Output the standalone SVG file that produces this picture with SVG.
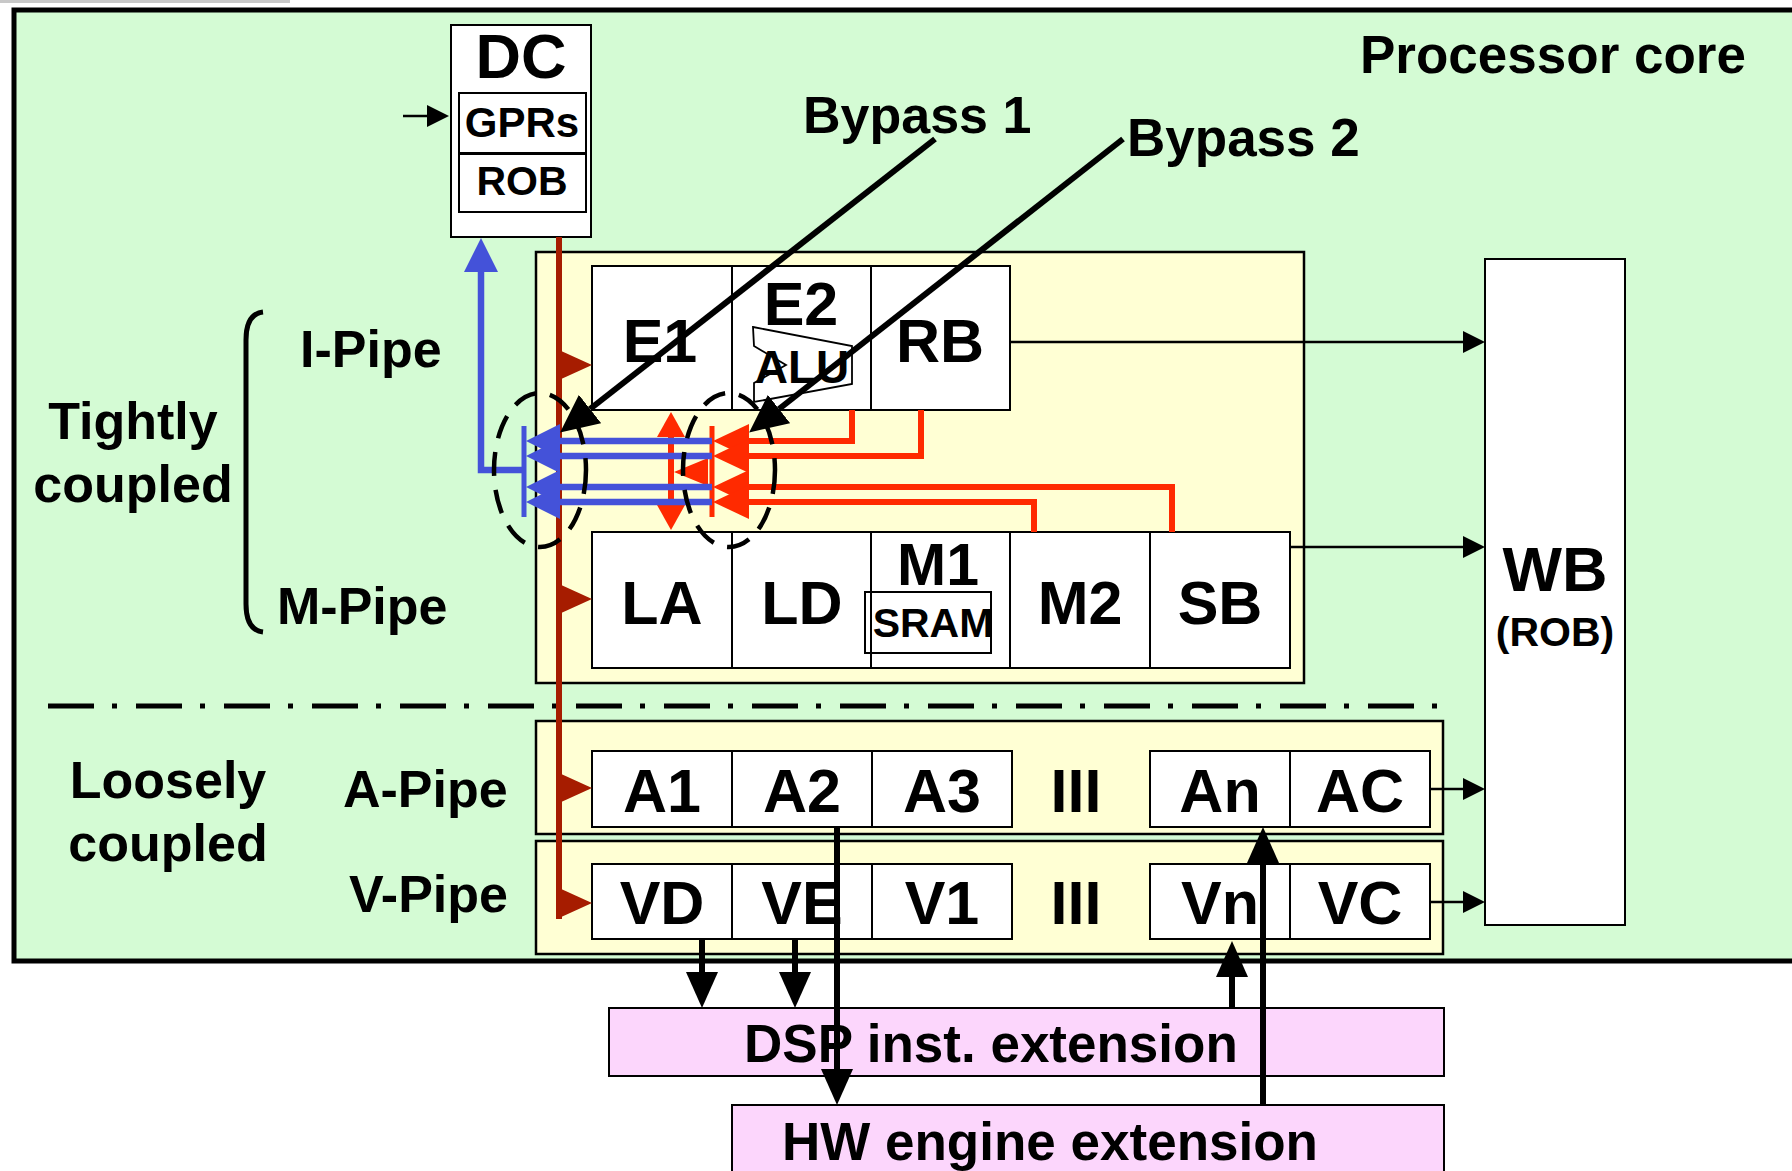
<svg xmlns="http://www.w3.org/2000/svg" xmlns:xlink="http://www.w3.org/1999/xlink" width="1792" height="1171" viewBox="0 0 1792 1171">
<style>
.t{font-family:"Liberation Sans",Arial,Helvetica,sans-serif;font-weight:bold;fill:#000}
.m{text-anchor:middle}
.cell{fill:#fff;stroke:#000;stroke-width:2}
.yb{fill:#FFFFD4;stroke:#000;stroke-width:2.5}
.pk{fill:#FCD6FC;stroke:#000;stroke-width:2}
.thin{stroke:#000;stroke-width:2.5;fill:none}
.thick{stroke:#000;stroke-width:6;fill:none}
.blue{stroke:#4452D9;stroke-width:6.5;fill:none}
.red{stroke:#FF2A00;stroke-width:6;fill:none}
.dred{stroke:#A61C00;stroke-width:6;fill:none}
.dash{stroke:#000;stroke-width:4.5;fill:none;stroke-dasharray:24 14}
</style>
<defs>
<marker id="sm" markerUnits="userSpaceOnUse" viewBox="0 0 22 22" markerWidth="22" markerHeight="22" refX="0" refY="11" orient="auto"><path d="M0,0 L22,11 L0,22 z" fill="#000"/></marker>
<marker id="bk" markerUnits="userSpaceOnUse" viewBox="0 0 36 32" markerWidth="36" markerHeight="32" refX="0" refY="16" orient="auto"><path d="M0,0 L36,16 L0,32 z" fill="#000"/></marker>
<marker id="bp" markerUnits="userSpaceOnUse" viewBox="0 0 38 36" markerWidth="38" markerHeight="36" refX="0" refY="18" orient="auto"><path d="M0,0 L38,18 L0,36 z" fill="#000"/></marker>
<marker id="bl" markerUnits="userSpaceOnUse" viewBox="0 0 34 34" markerWidth="34" markerHeight="34" refX="0" refY="17" orient="auto"><path d="M0,0 L34,17 L0,34 z" fill="#4452D9"/></marker>
<marker id="rd" markerUnits="userSpaceOnUse" viewBox="0 0 36 34" markerWidth="36" markerHeight="34" refX="0" refY="17" orient="auto"><path d="M0,0 L36,17 L0,34 z" fill="#FF2A00"/></marker>
<marker id="rs" markerUnits="userSpaceOnUse" viewBox="0 0 25 28" markerWidth="25" markerHeight="28" refX="0" refY="14" orient="auto-start-reverse"><path d="M0,0 L25,14 L0,28 z" fill="#FF2A00"/></marker>
<polygon id="rtri" points="0,-15 33,0 0,15" fill="#A61C00"/>
</defs>

<rect x="0" y="0" width="1792" height="1171" fill="#fff"/>
<line x1="0" y1="1.5" x2="290" y2="1.5" stroke="#C8C8C8" stroke-width="3"/>

<g id="processor-core">
<rect x="14" y="10" width="1800" height="951" fill="#D4FBD4" stroke="#000" stroke-width="5"/>
<text class="t" x="1360" y="73" font-size="53">Processor core</text>
</g>

<g id="labels">
<text class="t" x="803" y="133" font-size="52">Bypass 1</text>
<text class="t" x="1127" y="156" font-size="53">Bypass 2</text>
<text class="t" x="300" y="367" font-size="52">I-Pipe</text>
<text class="t" x="277" y="624" font-size="52">M-Pipe</text>
<text class="t m" x="133" y="439" font-size="52">Tightly</text>
<text class="t m" x="133" y="502" font-size="52">coupled</text>
<path d="M263,312 Q246,314 246,340 L246,604 Q246,630 263,632" fill="none" stroke="#000" stroke-width="5"/>
<text class="t m" x="168" y="798" font-size="52">Loosely</text>
<text class="t m" x="168" y="861" font-size="52">coupled</text>
<text class="t" x="343" y="807" font-size="52">A-Pipe</text>
<text class="t" x="349" y="912" font-size="52">V-Pipe</text>
<line x1="48" y1="706" x2="1440" y2="706" stroke="#000" stroke-width="5" stroke-dasharray="46 18 5 19"/>
</g>

<g id="dc">
<rect x="451" y="25" width="140" height="212" class="cell" stroke-width="2.5"/>
<text class="t m" x="521" y="78" font-size="63">DC</text>
<rect x="459" y="93" width="127" height="60" class="cell" stroke-width="2.5"/>
<rect x="459" y="154" width="127" height="58" class="cell" stroke-width="2.5"/>
<text class="t m" x="522" y="137" font-size="42">GPRs</text>
<text class="t m" x="522" y="195" font-size="41">ROB</text>
</g>

<g id="im-pipe">
<rect x="536" y="252" width="768" height="431" class="yb"/>
</g>
<g id="i-pipe">
<rect x="592" y="266" width="140" height="144" class="cell"/>
<rect x="732" y="266" width="139" height="144" class="cell"/>
<rect x="871" y="266" width="139" height="144" class="cell"/>
<text class="t m" x="660" y="362" font-size="61">E1</text>
<text class="t m" x="801" y="325" font-size="61">E2</text>
<polygon points="753,327 852,346 852,384 754,402 754,383 786,365 754,346" fill="#fff" stroke="#000" stroke-width="1.8"/>
<text class="t m" x="802" y="383" font-size="46">ALU</text>
<text class="t m" x="940" y="362" font-size="61">RB</text>
</g>
<g id="m-pipe">
<rect x="592" y="532" width="140" height="136" class="cell"/>
<rect x="732" y="532" width="139" height="136" class="cell"/>
<rect x="871" y="532" width="139" height="136" class="cell"/>
<rect x="1010" y="532" width="140" height="136" class="cell"/>
<rect x="1150" y="532" width="140" height="136" class="cell"/>
<text class="t m" x="662" y="624" font-size="61">LA</text>
<text class="t m" x="802" y="624" font-size="61">LD</text>
<text class="t m" x="938" y="585" font-size="59">M1</text>
<rect x="865" y="592" width="126" height="61" fill="none" stroke="#000" stroke-width="2"/>
<text class="t m" x="933" y="637" font-size="41">SRAM</text>
<text class="t m" x="1080" y="624" font-size="61">M2</text>
<text class="t m" x="1220" y="624" font-size="61">SB</text>
</g>

<g id="a-pipe">
<rect x="536" y="721" width="907" height="113" class="yb"/>
<rect x="592" y="751" width="140" height="76" class="cell"/>
<rect x="732" y="751" width="140" height="76" class="cell"/>
<rect x="872" y="751" width="140" height="76" class="cell"/>
<rect x="1150" y="751" width="140" height="76" class="cell"/>
<rect x="1290" y="751" width="140" height="76" class="cell"/>
<text class="t m" x="662" y="812" font-size="61">A1</text>
<text class="t m" x="802" y="812" font-size="61">A2</text>
<text class="t m" x="942" y="812" font-size="61">A3</text>
<text class="t m" x="1076" y="812" font-size="61">III</text>
<text class="t m" x="1220" y="812" font-size="61">An</text>
<text class="t m" x="1360" y="812" font-size="61">AC</text>
</g>

<g id="v-pipe">
<rect x="536" y="841" width="907" height="113" class="yb"/>
<rect x="592" y="864" width="140" height="75" class="cell"/>
<rect x="732" y="864" width="140" height="75" class="cell"/>
<rect x="872" y="864" width="140" height="75" class="cell"/>
<rect x="1150" y="864" width="140" height="75" class="cell"/>
<rect x="1290" y="864" width="140" height="75" class="cell"/>
<text class="t m" x="662" y="924" font-size="61">VD</text>
<text class="t m" x="802" y="924" font-size="61">VE</text>
<text class="t m" x="942" y="924" font-size="61">V1</text>
<text class="t m" x="1076" y="924" font-size="61">III</text>
<text class="t m" x="1220" y="924" font-size="61">Vn</text>
<text class="t m" x="1360" y="924" font-size="61">VC</text>
</g>

<g id="wb">
<rect x="1485" y="259" width="140" height="666" class="cell" stroke-width="2.5"/>
<text class="t m" x="1555" y="591" font-size="63">WB</text>
<text class="t m" x="1555" y="646" font-size="41">(ROB)</text>
</g>

<g id="dsp">
<rect x="609" y="1008" width="835" height="68" class="pk"/>
<text class="t" x="744" y="1062" font-size="53">DSP inst. extension</text>
</g>

<g id="hw">
<rect x="732" y="1105" width="712" height="90" class="pk"/>
<text class="t" x="782" y="1160" font-size="53">HW engine extension</text>
</g>

<g id="connectors">
<line x1="403" y1="116" x2="427" y2="116" class="thin" marker-end="url(#sm)"/>
<line x1="1010" y1="342" x2="1463" y2="342" class="thin" marker-end="url(#sm)"/>
<line x1="1290" y1="547" x2="1463" y2="547" class="thin" marker-end="url(#sm)"/>
<line x1="1430" y1="789" x2="1463" y2="789" class="thin" marker-end="url(#sm)"/>
<line x1="1430" y1="902" x2="1463" y2="902" class="thin" marker-end="url(#sm)"/>

<line x1="559" y1="237" x2="559" y2="919" class="dred"/>
<use xlink:href="#rtri" x="559" y="365"/>
<use xlink:href="#rtri" x="559" y="599"/>
<use xlink:href="#rtri" x="559" y="788"/>
<use xlink:href="#rtri" x="559" y="903"/>

<polyline points="852,410 852,441 749,441" class="red" marker-end="url(#rd)"/>
<polyline points="921,410 921,456 749,456" class="red" marker-end="url(#rd)"/>
<polyline points="1172,532 1172,487 749,487" class="red" marker-end="url(#rd)"/>
<polyline points="1034,532 1034,502 749,502" class="red" marker-end="url(#rd)"/>
<line x1="712" y1="426" x2="712" y2="517" stroke="#FF2A00" stroke-width="5"/>
<line x1="671" y1="437" x2="671" y2="505" class="red" marker-start="url(#rs)" marker-end="url(#rs)"/>
<polygon points="674,472 708,458 708,486" fill="#FF2A00"/>

<polyline points="524,470 481,470 481,272" class="blue" stroke-width="5" marker-end="url(#bl)"/>
<line x1="524" y1="426" x2="524" y2="517" stroke="#4452D9" stroke-width="5"/>
<line x1="712" y1="441" x2="560" y2="441" class="blue" marker-end="url(#bl)"/>
<line x1="712" y1="456" x2="560" y2="456" class="blue" marker-end="url(#bl)"/>
<line x1="712" y1="487" x2="560" y2="487" class="blue" marker-end="url(#bl)"/>
<line x1="712" y1="502" x2="560" y2="502" class="blue" marker-end="url(#bl)"/>

<ellipse cx="540" cy="470" rx="46" ry="77" class="dash"/>
<ellipse cx="729" cy="470" rx="46" ry="77" class="dash"/>

<line x1="935" y1="139" x2="590" y2="409" class="thick" marker-end="url(#bp)"/>
<line x1="1123" y1="139" x2="779" y2="409" class="thick" marker-end="url(#bp)"/>

<line x1="702" y1="939" x2="702" y2="972" class="thick" marker-end="url(#bk)"/>
<line x1="795" y1="939" x2="795" y2="972" class="thick" marker-end="url(#bk)"/>
<line x1="837" y1="827" x2="837" y2="1069" class="thick" marker-end="url(#bk)"/>
<line x1="1232" y1="1008" x2="1232" y2="977" class="thick" marker-end="url(#bk)"/>
<line x1="1263" y1="1105" x2="1263" y2="863" class="thick" marker-end="url(#bk)"/>
</g>
</svg>
